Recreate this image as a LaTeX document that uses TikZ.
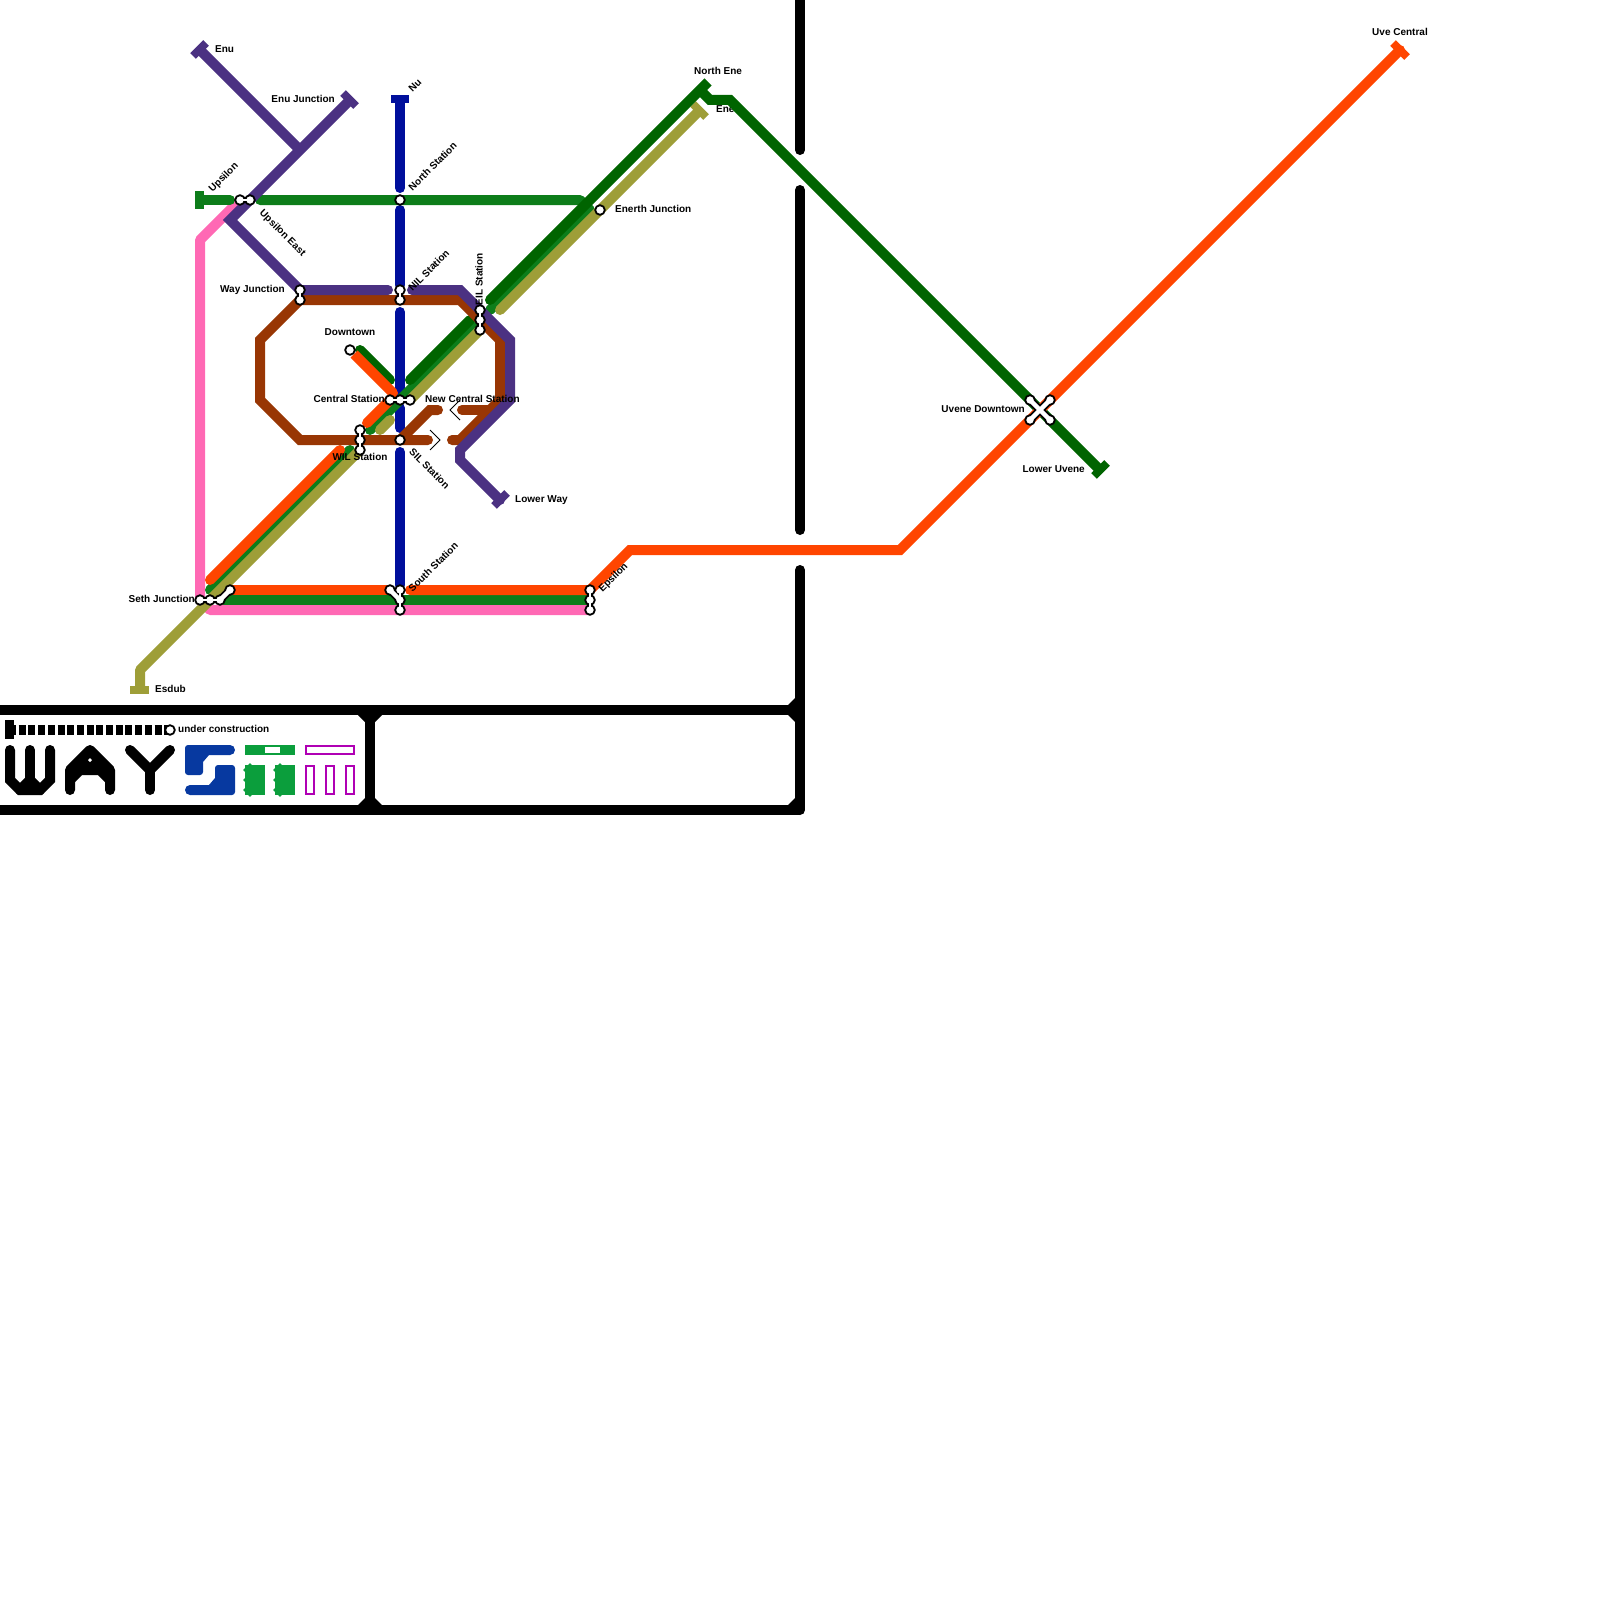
\documentclass[tikz,border=0pt]{standalone}
\usepackage{fontspec}
\setmainfont{Liberation Sans}
\definecolor{cPink}{HTML}{FF69B4}
\definecolor{cOlive}{HTML}{9E9E38}
\definecolor{cBlue}{HTML}{000F9C}
\definecolor{cMid}{HTML}{0D7D1A}
\definecolor{cDark}{HTML}{006400}
\definecolor{cOrange}{HTML}{FF4500}
\definecolor{cBrown}{HTML}{983604}
\definecolor{cPurple}{HTML}{4B3182}
\definecolor{cLogoBlue}{HTML}{0739A0}
\definecolor{cLogoGreen}{HTML}{0B9E3C}
\definecolor{cLogoMag}{HTML}{B000B4}
\pgfdeclarelayer{lines}
\pgfdeclarelayer{links}
\pgfdeclarelayer{top}
\pgfsetlayers{lines,links,main,top}
\tikzset{
  x=1pt,y=-1pt,
  metro/.style={line width=10pt,line cap=round,line join=round,#1},
  ending/.style={line width=8pt,line cap=butt,#1},
  stn/.style={circle,draw=black,fill=white,line width=1.8pt,minimum size=9.6pt,inner sep=0pt},
  linkb/.style={draw=black,line width=6.2pt,line cap=round},
  linkw/.style={draw=white,line width=2.6pt,line cap=round},
  linkbd/.style={draw=black,line width=8pt,line cap=round},
  linkwd/.style={draw=white,line width=4.4pt,line cap=round},
  lab/.style={font=\fontsize{10}{12}\selectfont\bfseries,inner sep=0pt,text height=7.2pt,text depth=0pt,text=black},
  wall/.style={line width=10pt,draw=black,line cap=round,line join=miter},
  logo/.style={line width=10pt,draw=black,line cap=round,line join=miter},
  hollow/.style={draw=cLogoMag,line width=2pt,fill=white},
}
\begin{document}
\begin{tikzpicture}
\useasboundingbox (0,0) rectangle (1600,1600);
% stations
\node[stn] (upsA) at (240,200) {};
\node[stn] (upsB) at (250,200) {};
\node[stn] (north) at (400,200) {};
\node[stn] (enerth) at (600,210) {};
\node[stn] (wayA) at (300,290) {};
\node[stn] (wayB) at (300,300) {};
\node[stn] (nilA) at (400,290) {};
\node[stn] (nilB) at (400,300) {};
\node[stn] (eilA) at (480,310) {};
\node[stn] (eilB) at (480,320) {};
\node[stn] (eilC) at (480,330) {};
\node[stn] (down) at (350,350) {};
\node[stn] (cenA) at (390,400) {};
\node[stn] (cenB) at (400,400) {};
\node[stn] (cenC) at (410,400) {};
\node[stn] (wilA) at (360,430) {};
\node[stn] (wilB) at (360,440) {};
\node[stn] (wilC) at (360,450) {};
\node[stn] (sil) at (400,440) {};
\node[stn] (sethA) at (200,600) {};
\node[stn] (sethB) at (210,600) {};
\node[stn] (sethC) at (220,600) {};
\node[stn] (sethD) at (230,590) {};
\node[stn] (souA) at (390,590) {};
\node[stn] (souB) at (400,590) {};
\node[stn] (souC) at (400,600) {};
\node[stn] (souD) at (400,610) {};
\node[stn] (epsA) at (590,590) {};
\node[stn] (epsB) at (590,600) {};
\node[stn] (epsC) at (590,610) {};
\node[stn] (uveA) at (1030,400) {};
\node[stn] (uveB) at (1050,400) {};
\node[stn] (uveC) at (1030,420) {};
\node[stn] (uveD) at (1050,420) {};
\node[stn] (uc) at (170,730) {};
\coordinate (uvc) at (1040,410);
% line ends
\coordinate (tEnu) at (200,50);
\coordinate (tEnuJ) at (350,100);
\coordinate (tNu) at (400,100);
\coordinate (tUps) at (200,200);
\coordinate (tLower) at (500,500);
\coordinate (tEsdub) at (140,690);
\coordinate (tEne) at (700,110);
\coordinate (tNorthEne) at (700,90);
\coordinate (tUve) at (1400,50);
\coordinate (tLowerUve) at (1100,470);
\begin{pgfonlayer}{lines}
% walls
\draw[wall] (800,0) -- (800,150);
\draw[wall] (800,190) -- (800,530);
\draw[wall] (800,570) -- (800,810);
\draw[wall,line cap=butt] (0,710) -- (800,710);
\draw[wall,line cap=butt] (0,810) -- (800,810);
\draw[wall,line cap=butt] (370,710) -- (370,810);
\fill[black] (358,715) -- (365,722) -- (365,715) -- cycle;
\fill[black] (382,715) -- (375,722) -- (375,715) -- cycle;
\fill[black] (358,805) -- (365,798) -- (365,805) -- cycle;
\fill[black] (382,805) -- (375,798) -- (375,805) -- cycle;
\fill[black] (788,705) -- (795,698) -- (795,705) -- cycle;
\fill[black] (788,715) -- (795,722) -- (795,715) -- cycle;
\fill[black] (788,805) -- (795,798) -- (795,805) -- cycle;
% label under the line
\node[lab,anchor=west] (lEne) at (716,109) {Ene};
% pink
\draw[metro=cPink] (240,200) -- (200,240) -- (200,600) -- (210,610) -- (590,610);
% blue
\draw[metro=cBlue,line cap=butt] (tNu) -- (400,188);
\fill[cBlue] (400,188) circle (5pt);
\draw[metro=cBlue] (400,210) -- (400,285);
\draw[metro=cBlue] (400,312) -- (400,392);
\draw[metro=cBlue] (400,408) -- (400,428);
\draw[metro=cBlue] (400,452) -- (400,585);
\draw[ending=cBlue] (391,99) -- (409,99);
% medium green
\draw[metro=cMid] (tUps) -- (230,200);
\draw[ending=cMid,line width=9pt] (199.5,191) -- (199.5,209);
\draw[metro=cMid] (260,200) -- (580,200) -- (590,210) -- (490,310);
\draw[metro=cMid] (475,325) -- (370,430);
\draw[metro=cMid] (350,450) -- (210,590);
\draw[metro=cMid] (224,600) -- (590,600);
% olive
\draw[metro=cOlive,line cap=butt] (tEne) -- (500,310);
\fill[cOlive] (500,310) circle (5pt);
\draw[metro=cOlive] (480,330) -- (410,400);
\draw[metro=cOlive] (390,420) -- (380,430);
\draw[metro=cOlive,line cap=butt] (360,450) -- (140,670) -- (tEsdub);
\draw[ending=cOlive] (130,690) -- (149,690);
\draw[ending=cOlive] (693,104) -- (706,117);
% dark green
\draw[metro=cDark] (360,350) -- (390,380);
\draw[metro=cDark] (410,380) -- (470,320);
\draw[metro=cDark,line cap=butt] (490,300) -- (708,82);
\fill[cDark] (490,300) circle (5pt);
\draw[metro=cDark,line cap=butt,line join=miter] (tNorthEne) -- (710,100) -- (730,100) -- (tLowerUve);
\draw[ending=cDark] (1094,476) -- (1107,463);
% orange
\draw[metro=cOrange,line cap=butt] (down) -- (393,393) -- (390,396);
\draw[metro=cOrange] (392,398) -- (367,423);
\draw[metro=cOrange] (340,450) -- (210,580);
\draw[metro=cOrange] (232,590) -- (390,590);
\draw[metro=cOrange,line join=miter] (410,590) -- (590,590) -- (630,550) -- (900,550) -- (uvc) -- (tUve);
\draw[ending=cOrange] (1393,43) -- (1407,57);
% brown
\draw[metro=cBrown,line join=miter] (428,440) -- (300,440) -- (260,400) -- (260,340) -- (300,300) -- (460,300) -- (500,340) -- (500,400) -- (460,440) -- (452,440);
\draw[metro=cBrown,line join=miter] (400,440) -- (430,410) -- (438,410);
\draw[metro=cBrown] (462,410) -- (490,410);
% purple
\draw[metro=cPurple,line cap=butt] (tEnu) -- (300,150);
\draw[metro=cPurple,line cap=butt,line join=miter] (tEnuJ) -- (230,220) -- (300,290) -- (388,290);
\fill[cPurple] (388,290) circle (5pt);
\draw[metro=cPurple,line join=miter] (412,290) -- (460,290) -- (510,340) -- (510,400) -- (460,450) -- (460,460) -- (tLower);
\draw[ending=cPurple] (193,56) -- (206,43);
\draw[ending=cPurple] (343,93) -- (356,106);
\draw[ending=cPurple] (494,506) -- (507,493);
\end{pgfonlayer}
% black outlines of links
\begin{pgfonlayer}{links}
\draw[linkb] (upsA.center) -- (upsB.center);
\draw[linkb] (wayA.center) -- (wayB.center);
\draw[linkb] (nilA.center) -- (nilB.center);
\draw[linkb] (eilA.center) -- (eilB.center) -- (eilC.center);
\draw[linkb] (cenA.center) -- (cenB.center) -- (cenC.center);
\draw[linkb] (wilA.center) -- (wilB.center) -- (wilC.center);
\draw[linkb] (sethA.center) -- (sethB.center) -- (sethC.center);
\draw[linkbd] (sethC.center) -- (sethD.center);
\draw[linkbd] (souA.center) -- (souC.center);
\draw[linkb] (souC.center) -- (souD.center);
\draw[linkb] (souB.center) -- (souC.center);
\draw[linkb] (epsA.center) -- (epsB.center) -- (epsC.center);
\draw[linkbd] (uveA.center) -- (uveD.center);
\draw[linkbd] (uveB.center) -- (uveC.center);
\end{pgfonlayer}
\begin{pgfonlayer}{top}
\draw[linkw] (upsA.center) -- (upsB.center);
\draw[linkw] (wayA.center) -- (wayB.center);
\draw[linkw] (nilA.center) -- (nilB.center);
\draw[linkw] (eilA.center) -- (eilB.center) -- (eilC.center);
\draw[linkw] (cenA.center) -- (cenB.center) -- (cenC.center);
\draw[linkw] (wilA.center) -- (wilB.center) -- (wilC.center);
\draw[linkw] (sethA.center) -- (sethB.center) -- (sethC.center);
\draw[linkwd] (sethC.center) -- (sethD.center);
\draw[linkwd] (souA.center) -- (souC.center);
\draw[linkw] (souC.center) -- (souD.center);
\draw[linkw] (souB.center) -- (souC.center);
\draw[linkw] (epsA.center) -- (epsB.center) -- (epsC.center);
\draw[linkwd] (uveA.center) -- (uveD.center);
\draw[linkwd] (uveB.center) -- (uveC.center);
\end{pgfonlayer}
% chevrons
\draw[black,line width=1pt] (430,430) -- (440,440) -- (430,450);
\draw[black,line width=1pt] (460,400) -- (450,410) -- (460,420);
% labels
\node[lab,anchor=west] (lEnu) at (215,49) {Enu};
\node[lab,anchor=east] (lEnuJ) at (335,99) {Enu Junction};
\node[lab,anchor=west,rotate=45] (lNu) at (410,90) {Nu};
\node[lab,anchor=west,rotate=45] (lNorth) at (410,189) {North Station};
\node[lab,anchor=west,rotate=45] (lUps) at (210,190) {Upsilon};
\node[lab,anchor=west,rotate=-45] (lUpsE) at (261.5,211) {Upsilon East};
\node[lab,anchor=east] (lWay) at (285,289) {Way Junction};
\node[lab,anchor=west,rotate=45] (lNil) at (410,289) {NIL Station};
\node[lab,anchor=west,rotate=90] (lEil) at (479,305.5) {EIL Station};
\node[lab] (lDown) at (350,332) {Downtown};
\node[lab,anchor=east] (lCen) at (385,399) {Central Station};
\node[lab,anchor=west] (lNew) at (425,399) {New Central Station};
\node[lab] (lWil) at (360,457) {WIL Station};
\node[lab,anchor=west,rotate=-45] (lSil) at (411,450) {SIL Station};
\node[lab,anchor=west] (lLower) at (515,499) {Lower Way};
\node[lab,anchor=west,rotate=45] (lSouth) at (410,590) {South Station};
\node[lab,anchor=west,rotate=45] (lEps) at (600,590) {Epsilon};
\node[lab,anchor=east] (lSeth) at (195,599) {Seth Junction};
\node[lab,anchor=west] (lEsdub) at (155,689) {Esdub};
\node[lab,anchor=west] (lUC) at (178,729) {under construction};
\node[lab,anchor=west] (lEnerth) at (615,209) {Enerth Junction};
\node[lab,anchor=west] (lNE) at (694,71) {North Ene};
\node[lab] (lUve) at (1400,32) {Uve Central};
\node[lab,anchor=east] (lUveD) at (1025,409) {Uvene Downtown};
\node[lab,anchor=east] (lLowU) at (1085,469) {Lower Uvene};
% legend: under construction
\begin{pgfonlayer}{lines}
\draw[black,line width=10pt,dash pattern=on 7pt off 2.7pt,line cap=butt] (9,730) -- (uc.center);
\fill[black] (5,720) rectangle (13.5,739);
\end{pgfonlayer}
% logo W A Y
\draw[logo] (10,750) -- (10,780) -- (20,790) -- (40,790) -- (50,780) -- (50,750);
\draw[logo] (20,790) -- (30,780) -- (40,790);
\draw[logo] (30,750) -- (30,780);
\draw[logo,line join=round] (70,790) -- (70,770) -- (90,750) -- (110,770) -- (110,790);
\draw[logo,line cap=butt] (70,780) -- (80,770) -- (100,770) -- (110,780);
\fill[black] (70,770) -- (90,750) -- (110,770) -- cycle;
\fill[white] (90,758) -- (92,760) -- (90,762) -- (88,760) -- cycle;
\draw[logo] (130,750) -- (150,770) -- (170,750);
\draw[logo] (150,770) -- (150,790);
% logo S
\fill[cLogoBlue] (230,755) -- (209,755) -- (203,762) [rounded corners=3pt] -- (203,775) -- (185,775) -- (185,745) [sharp corners] -- (230,745) -- cycle;
\fill[cLogoBlue] (230,750) circle (5pt);
\fill[cLogoBlue] (190,785) -- (209,785) -- (215,778) [rounded corners=3pt] -- (215,765) -- (235,765) -- (235,795) [sharp corners] -- (190,795) -- cycle;
\fill[cLogoBlue] (190,790) circle (5pt);
% logo T (green)
\fill[cLogoGreen] (245,745) rectangle (295,755);
\fill[white] (265,747) rectangle (280,753);
\fill[cLogoGreen] (245,765) rectangle (265,795);
\fill[cLogoGreen] (275,765) rectangle (295,795);
\foreach \bx/\tx in {245/250,275/280}{
  \fill[cLogoGreen] (\bx,770) circle (1.8pt) (\bx,780) circle (1.8pt) (\bx,790) circle (1.8pt) (\tx,765) circle (1.8pt) (\tx,795) circle (1.8pt);
}
% logo outlines
\draw[hollow] (306,746) rectangle (354,754);
\draw[hollow] (306,766) rectangle (314,794);
\draw[hollow] (326,766) rectangle (334,794);
\draw[hollow] (346,766) rectangle (354,794);
\end{tikzpicture}
\end{document}
